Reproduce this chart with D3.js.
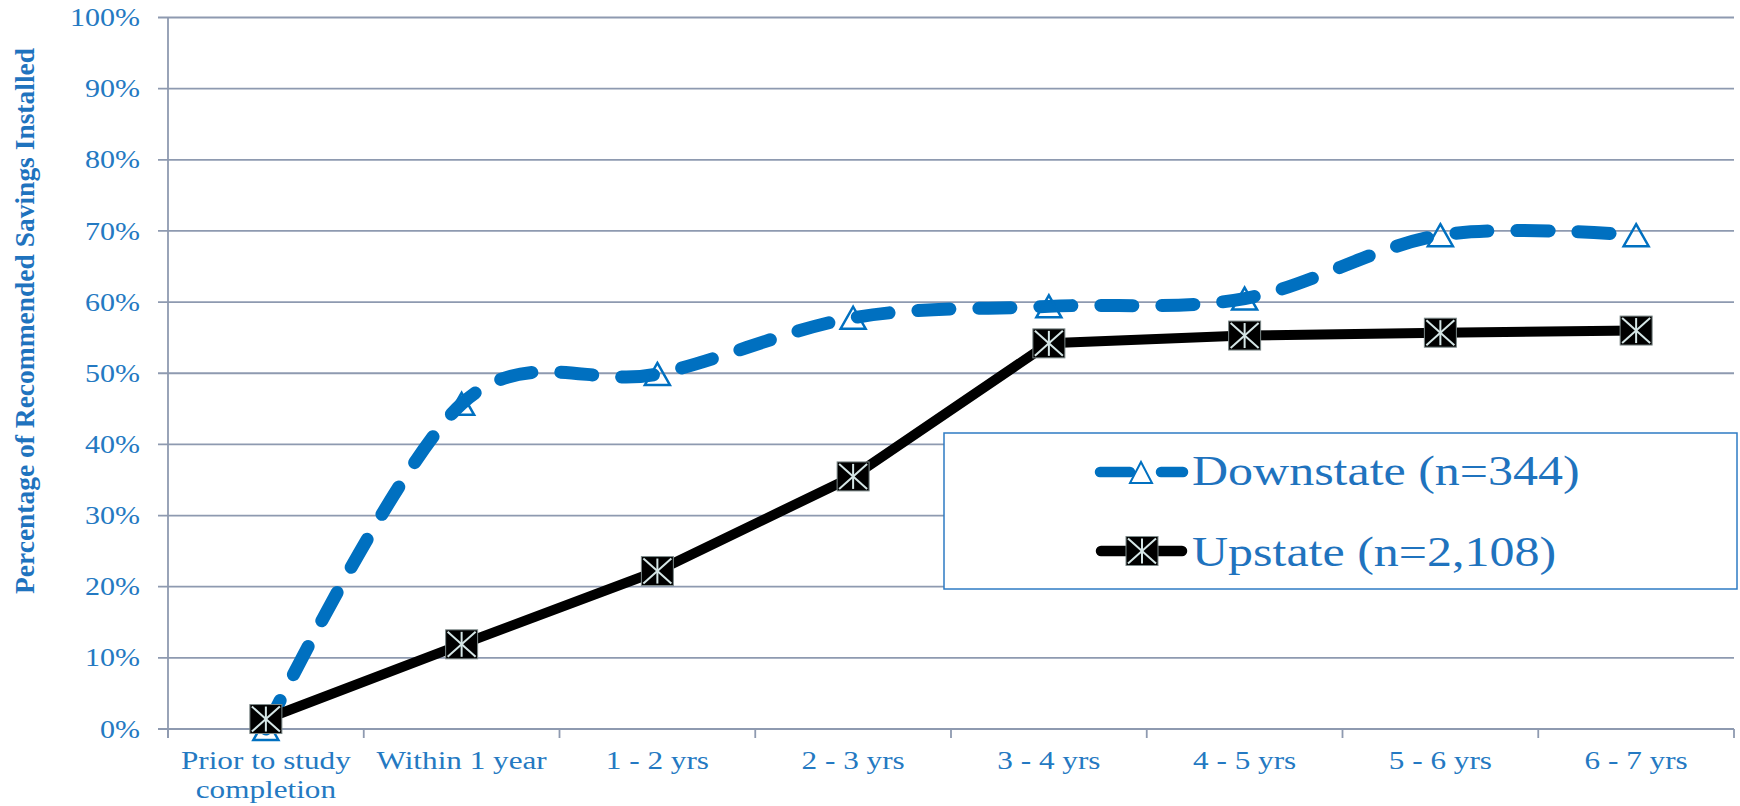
<!DOCTYPE html>
<html>
<head>
<meta charset="utf-8">
<script src="https://cdn.jsdelivr.net/npm/d3@7/dist/d3.min.js"></script>
<style>
  html, body { margin: 0; padding: 0; background: #fff; }
  svg { display: block; }
  text { font-family: "Liberation Serif", "Times New Roman", serif; }
</style>
</head>
<body>
<svg id="chart" width="1740" height="806"></svg>
<script>
// Installation timeline categories
const categories = [
  ["Prior to study", "completion"],
  ["Within 1 year"],
  ["1 - 2 yrs"],
  ["2 - 3 yrs"],
  ["3 - 4 yrs"],
  ["4 - 5 yrs"],
  ["5 - 6 yrs"],
  ["6 - 7 yrs"]
];
const categoryKeys = categories.map(c => c.join(" "));

// Share of recommended savings installed (fraction)
const downstate = [0.00, 0.457, 0.499, 0.578, 0.594, 0.605, 0.694, 0.694];
const upstate   = [0.014, 0.119, 0.222, 0.355, 0.542, 0.553, 0.557, 0.560];

const yTicks = [0, 0.1, 0.2, 0.3, 0.4, 0.5, 0.6, 0.7, 0.8, 0.9, 1.0];

const seriesNames = ["Downstate (n=344)", "Upstate (n=2,108)"];

const blue = "#0070C0";
const textBlue = "#2479C2";
const gridColor = "#8E9AB0";
const stretch = 1.2;

const svg = d3.select("#chart");

const plot = { left: 168, right: 1734, top: 17.5, bottom: 729 };

const x = d3.scaleBand().domain(categoryKeys).range([plot.left, plot.right]).paddingInner(0).paddingOuter(0);
const y = d3.scaleLinear().domain([0, 1]).range([plot.bottom, plot.top]);
const cx = i => x(categoryKeys[i]) + x.bandwidth() / 2;

// Horizontal gridlines with left tick marks
const gY = svg.append("g");
gY.selectAll("line.grid").data(yTicks).join("line")
  .attr("x1", plot.left - 10).attr("x2", plot.right)
  .attr("y1", d => y(d)).attr("y2", d => y(d))
  .attr("stroke", gridColor).attr("stroke-width", 1.8);

// Y tick labels
gY.selectAll("text").data(yTicks).join("text")
  .attr("transform", d => `translate(140,${y(d)}) scale(${stretch},1)`)
  .attr("text-anchor", "end")
  .attr("dominant-baseline", "central")
  .attr("font-size", 25)
  .attr("fill", textBlue)
  .text(d => d3.format(".0%")(d));

// Vertical axis line
svg.append("line")
  .attr("x1", plot.left).attr("x2", plot.left)
  .attr("y1", plot.top).attr("y2", plot.bottom + 9)
  .attr("stroke", gridColor).attr("stroke-width", 1.8);

// X tick marks at category boundaries
const boundaries = categoryKeys.map(k => x(k)).concat([plot.right]);
svg.append("g").selectAll("line").data(boundaries).join("line")
  .attr("x1", d => d).attr("x2", d => d)
  .attr("y1", plot.bottom).attr("y2", plot.bottom + 9)
  .attr("stroke", gridColor).attr("stroke-width", 1.8);

// X category labels
const xl = svg.append("g").selectAll("text").data(categories).join("text")
  .attr("transform", (d, i) => `translate(${cx(i)},769) scale(${stretch},1)`)
  .attr("text-anchor", "middle")
  .attr("font-size", 26)
  .attr("fill", textBlue);
xl.selectAll("tspan").data(d => d).join("tspan")
  .attr("x", 0)
  .attr("dy", (d, j) => j === 0 ? 0 : 29)
  .text(d => d);

// Y axis title
svg.append("text")
  .attr("transform", "translate(34,321) rotate(-90)")
  .attr("text-anchor", "middle")
  .attr("font-size", 28)
  .attr("font-weight", "bold")
  .attr("fill", "#1F73BE")
  .attr("textLength", 546)
  .attr("lengthAdjust", "spacingAndGlyphs")
  .text("Percentage of Recommended Savings Installed");

// Downstate: smoothed dashed line
const smoothLine = d3.line()
  .x((d, i) => cx(i))
  .y(d => y(d))
  .curve(d3.curveCardinal.tension(0));
svg.append("path")
  .attr("d", smoothLine(downstate))
  .attr("fill", "none")
  .attr("stroke", blue)
  .attr("stroke-width", 13)
  .attr("stroke-linecap", "round")
  .attr("stroke-dasharray", "32 29");

// Upstate: straight solid line
const straightLine = d3.line()
  .x((d, i) => cx(i))
  .y(d => y(d));
svg.append("path")
  .attr("d", straightLine(upstate))
  .attr("fill", "none")
  .attr("stroke", "#000")
  .attr("stroke-width", 10)
  .attr("stroke-linejoin", "round");

// Marker shapes
const triW = 25, triH = 22;
function triangle(sel) {
  sel.append("path")
    .attr("d", `M0,${-triH / 2} L${triW / 2},${triH / 2} L${-triW / 2},${triH / 2} Z`)
    .attr("fill", "none")
    .attr("stroke", blue)
    .attr("stroke-width", 2.5)
    .attr("stroke-linejoin", "miter");
}
const sqW = 32, sqH = 29;
function starSquare(sel) {
  sel.append("rect")
    .attr("x", -sqW / 2).attr("y", -sqH / 2)
    .attr("width", sqW).attr("height", sqH)
    .attr("fill", "#000")
    .attr("stroke", "#7d8a8a").attr("stroke-width", 1);
  const c = "#D5E6E6";
  const a = sqW / 2 - 2, b = sqH / 2 - 2;
  [[-a, -b, a, b], [-a, b, a, -b], [0, -b, 0, b]].forEach(p => {
    sel.append("line")
      .attr("x1", p[0]).attr("y1", p[1]).attr("x2", p[2]).attr("y2", p[3])
      .attr("stroke", c).attr("stroke-width", 2);
  });
}

svg.append("g").selectAll("g").data(downstate).join("g")
  .attr("transform", (d, i) => `translate(${cx(i)},${y(d)})`)
  .each(function () { triangle(d3.select(this)); });

svg.append("g").selectAll("g").data(upstate).join("g")
  .attr("transform", (d, i) => `translate(${cx(i)},${y(d)})`)
  .each(function () { starSquare(d3.select(this)); });

// Legend
const lg = svg.append("g");
lg.append("rect")
  .attr("x", 944).attr("y", 433)
  .attr("width", 793).attr("height", 156)
  .attr("fill", "#fff")
  .attr("stroke", "#2E7BC4").attr("stroke-width", 1.5);

const rowY = [472, 551];
// Downstate key
lg.append("line").attr("x1", 1100).attr("x2", 1130).attr("y1", rowY[0]).attr("y2", rowY[0])
  .attr("stroke", blue).attr("stroke-width", 10.5).attr("stroke-linecap", "round");
lg.append("line").attr("x1", 1161).attr("x2", 1183).attr("y1", rowY[0]).attr("y2", rowY[0])
  .attr("stroke", blue).attr("stroke-width", 10.5).attr("stroke-linecap", "round");
lg.append("g").attr("transform", `translate(1141,${rowY[0]})`)
  .call(g => g.append("path")
    .attr("d", "M0,-10 L11,11 L-11,11 Z")
    .attr("fill", "none").attr("stroke", blue).attr("stroke-width", 2));
// Upstate key
lg.append("line").attr("x1", 1101).attr("x2", 1182).attr("y1", rowY[1]).attr("y2", rowY[1])
  .attr("stroke", "#000").attr("stroke-width", 10.5).attr("stroke-linecap", "round");
lg.append("g").attr("transform", `translate(1142,${rowY[1]})`)
  .call(starSquare);

lg.selectAll("text").data(seriesNames).join("text")
  .attr("transform", (d, i) => `translate(1192,${[485, 566][i]}) scale(1.19,1)`)
  .attr("font-size", 42)
  .attr("fill", "#1F73BE")
  .text(d => d);
</script>
</body>
</html>
